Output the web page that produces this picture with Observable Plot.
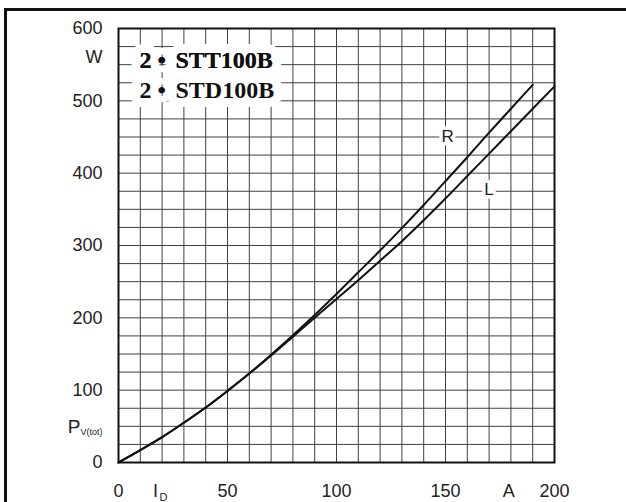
<!DOCTYPE html>
<html>
<head>
<meta charset="utf-8">
<script src="https://cdn.jsdelivr.net/npm/d3@7"></script>
<script src="https://cdn.jsdelivr.net/npm/@observablehq/plot@0.6"></script>
<style>
  html, body { margin: 0; padding: 0; background: #fff; overflow: hidden; }
  #wrap { position: relative; width: 626px; height: 502px; overflow: hidden; }
  #outer { position: absolute; left: 4px; top: 8px; width: 700px; height: 600px; border: 3px solid #111; pointer-events: none; }
  svg { display: block; }
</style>
</head>
<body>
<div id="wrap"><div id="chart"></div><div id="outer"></div></div>
<script>
// Current I_D (A) and power loss P_V(tot) (W)
const currentR = [0, 10, 20, 30, 40, 50, 60, 70, 80, 90, 100, 110, 120, 130, 140, 150, 160, 170, 180, 190];
const powerR   = [0, 17, 35, 55, 76, 99, 123, 149, 176, 204, 233, 263, 293, 324, 356, 389, 422, 456, 489, 522];
const currentL = [0, 10, 20, 30, 40, 50, 60, 70, 80, 90, 100, 110, 120, 130, 140, 150, 160, 170, 180, 190, 200];
const powerL   = [0, 17, 35, 55, 76, 99, 123, 148, 174, 200, 226, 252, 279, 306, 335, 365, 396, 427, 458, 489, 520];

const xTicks = [0, 50, 100, 150, 200];
const yTicks = [0, 100, 200, 300, 400, 500, 600];
const gridX = d3.range(0, 201, 10);
const gridY = d3.range(0, 601, 25);

const legendLine1 = ["2 •", "STT100B"];
const legendLine2 = ["2 •", "STD100B"];
const curveLabels = [{name: "R", I: 151, P: 450}, {name: "L", I: 170, P: 377}];

const rData = currentR.map((I, i) => ({I, P: powerR[i]}));
const lData = currentL.map((I, i) => ({I, P: powerL[i]}));

const sans = "'Liberation Sans', Arial, sans-serif";
const serif = "'Liberation Serif', 'Times New Roman', serif";

const legendStyle = {frameAnchor: "top-left", lineAnchor: "bottom", fontFamily: serif, fontWeight: "bold",
  fontSize: 24, fill: "#111", stroke: "white", strokeWidth: 18, strokeLinejoin: "round"};

function legendMarks(parts, dy, halo = true) {
  const s = halo ? legendStyle : {...legendStyle, stroke: null};
  return [
    Plot.text([parts[0]], {...s, text: d => d, dx: 21, dy}),
    Plot.text([parts[1]], {...s, text: d => d, dx: 57, dy})
  ];
}

const chart = Plot.plot({
  width: 626,
  height: 502,
  marginLeft: 118,
  marginRight: 72,
  marginTop: 28,
  marginBottom: 40,
  style: {fontFamily: sans, fontSize: "18px", color: "#222", background: "white"},
  x: {domain: [0, 200], label: null},
  y: {domain: [0, 600], label: null},
  marks: [
    Plot.ruleX(gridX, {stroke: "#404040", strokeWidth: 1}),
    Plot.ruleY(gridY, {stroke: "#404040", strokeWidth: 1}),
    ...legendMarks(legendLine1, 39),
    ...legendMarks(legendLine2, 69),
    ...legendMarks(legendLine1, 39, false),
    Plot.line(rData, {x: "I", y: "P", stroke: "#111", strokeWidth: 2, curve: "monotone-x"}),
    Plot.line(lData, {x: "I", y: "P", stroke: "#111", strokeWidth: 2, curve: "monotone-x"}),
    Plot.text(curveLabels, {x: "I", y: "P", text: "name", fontSize: 17, fill: "#222", stroke: "white", strokeWidth: 7}),
    Plot.frame({stroke: "#111", strokeWidth: 2}),
    Plot.axisX({ticks: xTicks, tickSize: 0, tickPadding: 22, label: null, fontSize: 18}),
    Plot.axisY({ticks: yTicks, tickSize: 0, tickPadding: 16, label: null, fontSize: 18}),
    Plot.text(["W"], {text: d => d, frameAnchor: "left", y: [560], dx: -16, textAnchor: "end", fontSize: 18}),
    Plot.text(["P"], {text: d => d, frameAnchor: "left", y: [41], dx: -38, textAnchor: "end", lineAnchor: "bottom", fontSize: 19}),
    Plot.text(["V(tot)"], {text: d => d, frameAnchor: "left", y: [38], dx: -38, textAnchor: "start", lineAnchor: "bottom", fontSize: 9}),
    Plot.text(["I"], {text: d => d, frameAnchor: "bottom", x: [17], dy: 22, lineAnchor: "top", fontSize: 18}),
    Plot.text(["D"], {text: d => d, frameAnchor: "bottom", x: [20.6], dy: 38, lineAnchor: "bottom", fontSize: 11}),
    Plot.text(["A"], {text: d => d, frameAnchor: "bottom", x: [179], dy: 22, lineAnchor: "top", fontSize: 18})
  ]
});

document.getElementById("chart").appendChild(chart);
</script>
</body>
</html>
